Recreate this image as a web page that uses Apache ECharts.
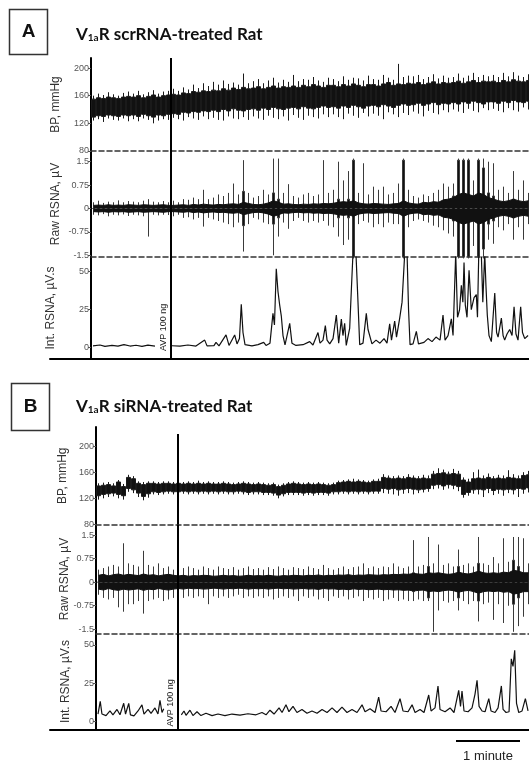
<!DOCTYPE html>
<html>
<head>
<meta charset="utf-8">
<script src="https://cdn.jsdelivr.net/npm/echarts@6/dist/echarts.min.js"></script>
<style>
  html, body { margin: 0; background: #fff; }
  #main { width: 529px; height: 764px; }
</style>
</head>
<body>
<div id="main"></div>
<script>
// one bin of the BP / raw RSNA traces, in seconds (trace read every 5 px, 64 px = 1 min)
var BIN = 4.6875;
// AVP 100 ng bolus, seconds after trace start
var avpA = 75, avpB = 76.9;

// ---- A: V1aR scrRNA-treated rat ----
// BP, mmHg: dense band (lo/hi) and beat extremes (min/max) per bin
var bpLoA = [129,131,130,132,131,130,132,131, 132,130,133,131,129,132,131,133,
             134,133,136,135,137,136,138,137, 139,137,140,138,141,139,138,140,
             141,139,142,140,143,141,140,142, 143,141,144,142,141,143,145,143,
             144,142,145,143,146,144,142,145, 146,144,147,145,143,146,148,146,
             147,149,146,148,150,147,149,148, 150,148,151,149,152,150,148,151,
             151,149,152,150,153,151,150,152];
var bpHiA = [155,157,156,158,157,156,158,159, 158,160,157,159,161,158,160,161,
             162,161,164,163,166,165,167,166, 168,167,170,168,171,169,172,170,
             171,173,170,172,174,171,173,172, 174,172,175,173,176,174,172,175,
             175,173,176,174,177,175,173,176, 176,174,177,179,175,177,176,178,
             177,179,176,178,180,177,179,178, 179,181,178,180,182,179,181,180,
             181,179,182,180,183,181,180,182];
var bpMinA = [124,126,122,127,125,124,127,123, 126,123,127,125,120,124,126,125,
              128,126,124,129,127,125,130,126, 128,125,124,130,127,126,129,125,
              130,127,125,131,128,126,130,124, 132,128,125,131,129,127,133,129,
              133,129,126,134,131,128,135,130, 134,131,126,136,133,129,135,132,
              137,134,130,138,135,133,139,136, 140,137,135,141,138,136,142,139,
              141,138,136,142,139,137,143,140];
var bpMaxA = [160,163,161,165,162,160,164,166, 163,167,162,165,168,163,166,167,
              170,167,172,169,176,171,178,174, 180,176,182,177,179,176,192,178,
              181,184,178,182,186,179,183,180, 190,181,184,183,187,182,180,186,
              184,181,188,183,186,185,182,189, 184,183,190,186,183,206,187,189,
              188,190,184,187,191,185,189,186, 187,192,186,189,193,187,190,188,
              190,187,193,188,194,189,187,191];

// Raw RSNA, µV: background noise half-width, burst half-height, spike top / bottom per bin
var rawCoreA = [0.1,0.11,0.1,0.12,0.1,0.11,0.1,0.12,0.11,0.1,0.12,0.11,0.1,0.11,0.12,0.1,
                0.1,0.11,0.12,0.1,0.13,0.11,0.14,0.12,0.11,0.13,0.12,0.14,0.15,0.13,0.2,0.16,
                0.13,0.12,0.14,0.18,0.25,0.2,0.14,0.15,0.13,0.12,0.14,0.13,0.15,0.14,0.16,0.15,
                0.17,0.2,0.22,0.2,0.25,0.18,0.15,0.14,0.16,0.15,0.14,0.13,0.15,0.16,0.25,0.18,
                0.15,0.14,0.2,0.18,0.22,0.2,0.28,0.3,0.35,0.45,0.5,0.45,0.4,0.5,0.45,0.35,
                0.3,0.25,0.22,0.25,0.3,0.25,0.22,0.25];
var rawBurstA = [0,0,0,0,0,0,0,0,0,0,0,0,0,0,0,0,
                 0,0,0,0,0,0,0,0,0,0,0,0,0,0,0.55,0,
                 0,0,0,0,0.5,0.3,0,0,0,0,0,0,0,0,0,0,
                 0,0.3,0,0.3,1.55,0,0,0,0,0,0,0,0,0,1.55,0,
                 0,0,0,0,0,0,0,0,0.4,1.55,1.55,1.55,0,1.55,1.3,0.5,
                 0.4,0,0,0,0.3,0,0,0];
var rawUpA = [0.2,0.25,0.18,0.22,0.2,0.26,0.2,0.24,0.22,0.2,0.25,0.3,0.22,0.2,0.24,0.2,
              0.25,0.2,0.3,0.28,0.35,0.3,0.6,0.3,0.35,0.45,0.4,0.5,0.8,0.45,1.55,0.5,
              0.35,0.4,0.6,0.45,1.6,1.6,0.5,0.78,0.4,0.35,0.45,0.5,0.4,0.45,1.55,0.5,
              0.6,1.5,0.9,1.2,1.6,0.5,1.45,0.45,0.7,0.6,0.7,0.45,0.5,0.8,1.6,0.6,
              0.4,0.35,0.45,0.4,0.5,0.6,0.8,0.7,0.8,1.6,1.6,1.6,0.9,1.6,1.6,1.5,
              1.45,0.6,0.7,0.5,1.2,0.6,0.9,0.5];
var rawDnA = [-0.2,-0.22,-0.18,-0.25,-0.2,-0.22,-0.19,-0.24,-0.2,-0.22,-0.25,-0.9,-0.2,-0.22,-0.2,-0.21,
              -0.25,-0.2,-0.3,-0.28,-0.35,-0.3,-0.58,-0.3,-0.35,-0.4,-0.45,-0.5,-0.6,-0.45,-1.38,-0.5,
              -0.3,-0.35,-0.45,-0.5,-1.5,-0.9,-0.45,-0.65,-0.4,-0.3,-0.4,-0.45,-0.4,-0.45,-0.4,-0.55,
              -0.6,-0.9,-1.17,-1.0,-1.6,-0.5,-0.4,-0.45,-0.6,-0.5,-0.6,-0.45,-0.5,-0.5,-1.6,-0.6,
              -0.4,-0.35,-0.4,-0.45,-0.55,-0.6,-0.7,-0.8,-0.9,-1.6,-1.6,-1.6,-1.2,-1.6,-1.6,-1.0,
              -1.13,-0.6,-0.7,-0.5,-1.0,-0.6,-1.0,-0.5];

// Integrated RSNA, µV.s: [seconds, value]; '-' = gap left for the AVP label
var intA = [[1.9,1.2],[8.4,1.8],[13.1,0.9],[19.7,1.5],[25.3,1.0],[30.9,2.0],[36.6,1.1],[42.2,1.6],
  [47.8,0.9],[53.4,1.7],[60,1.0],[67,'-'],
  [75.9,1.3],[83.4,1.0],[90.9,1.8],[98.4,1.1],[106.6,5],[108.8,1.2],[115.3,1.4],[117.2,3.5],
  [120,1.2],[126.6,8.4],[129.4,1.5],[134.7,8.4],[136.9,2.5],[139.2,6],[140.9,28.5],[142.5,10],
  [144.4,2],[150.9,1.2],[156.6,2],[161.9,3.5],[164.1,1.5],[167.8,3],[170.6,22.6],[172,15],
  [173.7,52],[175.3,37],[176.9,28],[178.4,21],[180,8],[181.9,1.8],[186.3,16],[188.4,3],
  [192.2,1.5],[198.8,2],[205,4],[208.1,1.8],[212.8,10],[214.7,3],[217.5,5],[219.7,14.5],
  [221.3,5],[223.8,2.5],[226.9,6],[230,21.5],[232.2,3],[234.7,18.8],[236.2,8],[237.8,16],
  [239.3,1.5],[242.5,12.7],[244.2,40],[245.6,62],[248.4,62],[250.3,30],[251.9,2],[255,3],
  [258.1,22.6],[259.7,12],[261.3,10.7],[263.4,2.5],[267.2,5],[270.9,3],[274.7,6],[277.5,3],
  [280,15.7],[281.7,5],[284.7,17.5],[286.4,7],[289.4,19.5],[291.6,30],[294.1,62],[296.3,62],
  [297.7,25],[299.1,2],[301.9,2.5],[305,10.7],[307,2.5],[312.2,3.5],[315.9,6],[319.7,4],
  [323.4,7],[327.2,5],[330,21.5],[331.9,5],[334.7,8],[337.8,19],[339.4,8],[341.9,62],
  [343.6,20],[345.5,25],[347.2,41],[348.6,30],[349.7,56],[350.9,28],[352.5,20],[354.4,51],
  [356.5,25],[359.1,33],[361.2,35],[362.3,20],[363.5,62],[365.9,62],[367.3,30],[369.1,62],
  [370.3,40],[371.5,21.5],[373.1,8],[375.3,4],[378.5,36],[380.2,10],[381.6,7],[384.7,19.5],
  [386.3,8],[387.8,5],[390,9],[392.5,12],[394.7,8],[396.6,26.9],[398.4,9],[400.3,5],
  [402.8,27],[404.5,10],[406.6,6],[409.7,8]];

// ---- B: V1aR siRNA-treated rat ----
var bpLoB = [124,126,127,128,126,124,135,133, 128,123,127,130,129,130,131,130,
             130,131,130,131,130,131,130,131, 130,131,130,130,131,130,129,130,
             130,129,129,128,125,127,129,129, 129,128,129,128,129,129,128,130,
             130,131,130,131,130,131,130,131, 131,135,134,135,133,134,135,134,
             133,134,135,140,141,139,141,140, 138,126,129,133,134,133,135,132,
             134,133,134,133,135,134,136];
var bpHiB = [139,140,141,139,145,138,152,150, 143,141,143,143,142,143,143,142,
             143,142,143,142,143,142,143,142, 142,143,142,141,142,143,142,141,
             142,141,140,141,138,140,142,143, 142,141,142,141,142,141,140,141,
             144,145,146,145,146,145,144,146, 146,152,151,150,151,150,152,151,
             150,151,150,157,158,159,157,158, 157,148,145,150,151,150,152,150,
             151,150,152,151,150,155,156];
var bpMinB = [118,120,122,123,120,118,130,128, 122,117,121,126,125,126,127,126,
              126,127,126,127,126,127,126,127, 126,127,126,126,127,126,125,126,
              126,125,125,124,120,123,125,125, 125,124,125,124,125,125,124,126,
              126,127,126,127,126,127,126,127, 127,128,127,126,124,127,128,126,
              128,129,130,134,135,133,135,134, 131,121,124,127,126,122,128,125,
              127,124,128,126,122,127,129];
var bpMaxB = [143,144,145,143,148,142,156,154, 146,145,146,146,145,146,146,145,
              146,145,146,145,147,145,146,145, 145,146,145,144,145,146,145,144,
              145,144,143,144,141,143,145,146, 145,144,145,144,145,144,143,144,
              147,148,149,150,149,148,147,149, 150,157,155,154,155,154,157,155,
              154,156,155,162,166,164,161,165, 162,152,150,160,164,155,158,154,
              156,155,163,157,155,160,162];

var rawCoreB = [0.22,0.25,0.2,0.24,0.26,0.22,0.25,0.23,0.21,0.26,0.22,0.24,0.2,0.23,0.25,0.22,
                0.2,0.22,0.19,0.21,0.2,0.22,0.21,0.19,0.2,0.22,0.2,0.21,0.19,0.2,0.22,0.2,
                0.21,0.2,0.22,0.2,0.19,0.21,0.2,0.22,0.21,0.2,0.22,0.21,0.23,0.2,0.22,0.21,
                0.23,0.22,0.24,0.21,0.23,0.22,0.24,0.23,0.22,0.24,0.23,0.25,0.24,0.26,0.25,0.28,
                0.26,0.25,0.3,0.28,0.3,0.27,0.25,0.27,0.32,0.28,0.26,0.3,0.35,0.3,0.28,0.3,
                0.28,0.32,0.3,0.38,0.35,0.3,0.3];
var rawBurstB = [0,0,0,0,0,0,0,0,0,0,0,0,0,0,0,0,
                 0,0,0,0,0,0,0,0,0,0,0,0,0,0,0,0,
                 0,0,0,0,0,0,0,0,0,0,0,0,0,0,0,0,
                 0,0,0,0,0,0,0,0,0,0,0,0,0,0,0,0.3,
                 0,0,0.5,0,0,0,0,0,0.5,0,0,0,0.6,0,0,0,
                 0,0.3,0,0.7,0.5,0,0];
var rawUpB = [0.4,0.45,0.5,0.55,0.5,1.24,0.6,0.55,0.5,1.0,0.55,0.5,0.6,0.45,0.5,0.4,
              0.4,0.45,0.5,0.45,0.4,0.5,0.45,0.4,0.5,0.45,0.42,0.48,0.4,0.45,0.5,0.42,
              0.45,0.4,0.48,0.42,0.5,0.45,0.4,0.48,0.45,0.42,0.5,0.45,0.42,0.55,0.45,0.4,
              0.45,0.5,0.42,0.48,0.5,0.6,0.45,0.5,0.45,0.5,0.48,0.6,0.5,0.45,0.5,1.34,
              0.5,0.55,1.44,0.6,1.2,0.55,0.6,0.5,1.04,0.55,0.6,0.5,1.44,0.6,0.55,0.8,
              0.6,1.4,0.65,1.44,1.44,1.4,0.6];
var rawDnB = [-0.4,-0.5,-0.55,-0.5,-0.8,-0.94,-0.7,-0.7,-0.6,-1.0,-0.6,-0.55,-0.5,-0.6,-0.55,-0.5,
              -0.45,-0.5,-0.45,-0.5,-0.45,-0.5,-0.7,-0.45,-0.5,-0.45,-0.5,-0.45,-0.4,-0.5,-0.45,-0.5,
              -0.45,-0.5,-0.45,-0.55,-0.5,-0.45,-0.5,-0.45,-0.6,-0.45,-0.5,-0.45,-0.55,-0.5,-0.6,-0.45,
              -0.5,-0.45,-0.55,-0.5,-0.45,-0.6,-0.5,-0.55,-0.5,-0.6,-0.55,-0.5,-0.6,-0.55,-0.6,-0.6,
              -0.55,-0.6,-0.6,-1.58,-0.9,-0.6,-0.65,-0.6,-0.9,-0.6,-0.7,-0.6,-1.25,-0.7,-0.65,-1.2,
              -0.7,-1.3,-0.75,-1.58,-1.4,-1.1,-0.7];

var intB = [[1.9,5],[4,13.3],[5.6,5],[9.4,4],[13.1,7],[15.9,4.5],[19.7,8],[22.5,4.5],[26,12],
  [27.7,5],[30.7,12],[32.3,4.5],[35.6,3.8],[39.4,7],[43.1,11],[45,5],[48.8,8],[51.6,5.5],
  [55.3,9],[58.1,5],[60,14],[61.9,6],[63.5,8.5],[70,'-'],
  [80,4.5],[82.5,7],[84.4,4.2],[88.1,7.5],[90.9,4],[94.7,6.5],[98.4,4],[103.1,5.5],[108.8,4],
  [114.4,5],[120.9,4],[127.5,5],[135,4.3],[142.5,5.2],[150,4.5],[155.6,6],[159.4,4.5],
  [163.1,7.5],[166.9,5],[171.6,9],[174.4,6],[178.1,11],[180.9,6.5],[184.7,10],[188.4,6],
  [193.1,8],[197.8,5.5],[202.5,7],[207.2,5.5],[211.9,8],[216.6,6],[221.3,9],[225.9,6],
  [230.6,9.5],[235.3,6],[240,8],[244.7,6],[249.4,11],[252.2,6.5],[256.9,8.5],[261.6,6],
  [265,16],[267.2,7],[271.9,6.5],[276.6,10],[280.3,6],[285,15],[287.8,7],[292.5,6.5],
  [296.3,11],[299.1,6],[303.8,8],[307.5,6],[311.9,17.4],[314.1,7],[317.8,9],[320.6,23.3],
  [322.5,8],[327.2,6.5],[331.9,9],[335.6,6],[340,20.4],[341.7,10],[343.1,20],[345,7],
  [348.8,6.5],[352.5,9],[355.3,18],[357.2,27],[359.1,10],[361.9,7],[364.7,6.5],[368.2,15],
  [370.3,7],[374.1,6],[376.9,9],[380,23.3],[381.6,8],[384.4,6],[387.2,6.5],[389.3,41],
  [390.9,36],[392.5,46.5],[394.2,12],[396.3,6],[399.4,7],[402.5,15],[405,7]];

// tick labels
var bpTicks = [80, 120, 160, 200];
var rawTicks = [-1.5, -0.75, 0, 0.75, 1.5];
var intTicks = [0, 25, 50];

// ---------------- option building ----------------
var FONT = 'Liberation Sans';
var grids = [], xAxes = [], yAxes = [], series = [];

// yShift: how far right of the grid's left edge the y axis sits (int panels extend the baseline to the left)
function addPanel(grid, xMin, xMax, xLine, yMin, yMax, ticks, name, gap, yShift) {
    var i = grids.length;
    grid.outerBoundsMode = 'none';
    grids.push(grid);
    xAxes.push({
        type: 'value', gridIndex: i, min: xMin, max: xMax,
        axisLine: { show: true, onZero: false, lineStyle: xLine },
        axisTick: { show: false }, axisLabel: { show: false }, splitLine: { show: false }
    });
    yAxes.push({
        type: 'value', gridIndex: i, min: yMin, max: yMax, offset: -(yShift || 0),
        name: name, nameLocation: 'middle', nameGap: gap, nameRotate: 90, nameMoveOverlap: false,
        nameTextStyle: { fontFamily: FONT, fontSize: 12, color: '#333' },
        axisLine: { show: true, onZero: false, lineStyle: { color: '#000', width: 2 } },
        axisTick: { show: true, length: 3, customValues: ticks, lineStyle: { color: '#555' } },
        axisLabel: { show: true, customValues: ticks, fontFamily: FONT, fontSize: 9, color: '#555', margin: 2 },
        splitLine: { show: false }
    });
    return i;
}

var dashed = { color: '#333', width: 1.5, type: [5, 3] };
var solid = { color: '#000', width: 2 };

// labelPad: null = no label, otherwise space kept between the grid bottom and the text
function avpMark(data, labelPad) {
    return {
        silent: true, symbol: 'none', animation: false,
        lineStyle: { color: '#000', width: 2, type: 'solid' },
        label: labelPad != null ? {
            show: true, position: 'insideStartTop', formatter: 'AVP 100 ng',
            fontFamily: FONT, fontSize: 9, color: '#222', distance: 3, padding: [0, 0, 0, labelPad]
        } : { show: false },
        data: data
    };
}

function bpSeries(ax, lo, hi, mn, mx, mark) {
    return {
        type: 'candlestick', xAxisIndex: ax, yAxisIndex: ax, silent: true, barWidth: 5,
        data: lo.map(function (v, i) { return [(i + 0.5) * BIN, v, hi[i], mn[i], mx[i]]; }),
        itemStyle: { color: '#111', color0: '#111', borderColor: '#1a1a1a', borderColor0: '#1a1a1a', borderWidth: 1 },
        markLine: mark
    };
}

function rawSeries(ax, core, burst, up, dn, mark) {
    var out = [];
    [1, -1].forEach(function (sign) {
        out.push({
            type: 'line', xAxisIndex: ax, yAxisIndex: ax, silent: true, symbol: 'none',
            lineStyle: { color: '#111', width: 1 },
            areaStyle: { color: '#111', opacity: 1, origin: 0 },
            data: core.map(function (v, i) { return [(i + 0.5) * BIN, sign * v]; })
        });
    });
    out.push({
        type: 'candlestick', xAxisIndex: ax, yAxisIndex: ax, silent: true, barWidth: 2,
        data: burst.map(function (b, i) { return [(i + 0.5) * BIN, -b, b, dn[i], up[i]]; }),
        itemStyle: { color: '#111', color0: '#111', borderColor: '#3a3a3a', borderColor0: '#3a3a3a', borderWidth: 1 },
        markLine: mark
    });
    return out;
}

function intSeries(ax, data, mark) {
    return {
        type: 'line', xAxisIndex: ax, yAxisIndex: ax, silent: true, symbol: 'none',
        lineStyle: { color: '#111', width: 1.2 }, data: data, markLine: mark
    };
}

// panel A
var a0 = addPanel({ left: 91, top: 58, width: 438, height: 93 }, 0, 410.6, dashed, 80, 214.5, bpTicks, 'BP, mmHg', 29);
var a1 = addPanel({ left: 91, top: 151, width: 438, height: 106 }, 0, 410.6, dashed, -1.554, 1.843, rawTicks, 'Raw RSNA, µV', 29);
var a2 = addPanel({ left: 50, top: 257, width: 479, height: 102 }, -38.4, 410.6, solid, -7.43, 59.7, intTicks, 'Int. RSNA, µV.s', 34, 41);
series.push(bpSeries(a0, bpLoA, bpHiA, bpMinA, bpMaxA, avpMark([{ xAxis: avpA }], null)));
series = series.concat(rawSeries(a1, rawCoreA, rawBurstA, rawUpA, rawDnA, avpMark([{ xAxis: avpA }], null)));
series.push(intSeries(a2, intA, avpMark([{ xAxis: avpA }], 5)));

// panel B
var b0 = addPanel({ left: 96, top: 427, width: 433, height: 97.5 }, 0, 405.9, dashed, 80, 229.1, bpTicks, 'BP, mmHg', 27);
var b1 = addPanel({ left: 96, top: 524.5, width: 433, height: 109 }, 0, 405.9, dashed, -1.634, 1.838, rawTicks, 'Raw RSNA, µV', 25);
var b2 = addPanel({ left: 50, top: 633.5, width: 479, height: 96 }, -43.1, 405.9, solid, -5.08, 57.5, intTicks, 'Int. RSNA, µV.s', 24, 46);
series.push(bpSeries(b0, bpLoB, bpHiB, bpMinB, bpMaxB, avpMark([[{ coord: [avpB, 218.4] }, { coord: [avpB, 80] }]], null)));
series = series.concat(rawSeries(b1, rawCoreB, rawBurstB, rawUpB, rawDnB, avpMark([{ xAxis: avpB }], null)));
series.push(intSeries(b2, intB, avpMark([{ xAxis: avpB }], 0)));

var titleStyle = {
    fontFamily: 'Lato', fontWeight: 'bold', fontSize: 17, color: '#111',
    rich: { s: { fontFamily: 'Lato', fontWeight: 'bold', fontSize: 10, color: '#111', verticalAlign: 'bottom' } }
};

var option = {
    animation: false,
    backgroundColor: '#fff',
    title: [
        { text: 'V{s|1a}R scrRNA-treated Rat', left: 76, top: 26, padding: 0, textStyle: titleStyle },
        { text: 'V{s|1a}R siRNA-treated Rat', left: 76, top: 398, padding: 0, textStyle: titleStyle }
    ],
    grid: grids,
    xAxis: xAxes,
    yAxis: yAxes,
    series: series,
    graphic: [
        { type: 'rect', shape: { x: 9.5, y: 9.5, width: 38, height: 45 }, style: { fill: '#fff', stroke: '#333', lineWidth: 1.5 } },
        { type: 'text', x: 28.5, y: 32, style: { text: 'A', font: 'bold 19px Liberation Sans', fill: '#111', align: 'center', verticalAlign: 'middle', textAlign: 'center', textVerticalAlign: 'middle' } },
        { type: 'rect', shape: { x: 11.5, y: 383.5, width: 38, height: 47 }, style: { fill: '#fff', stroke: '#333', lineWidth: 1.5 } },
        { type: 'text', x: 30.5, y: 407, style: { text: 'B', font: 'bold 19px Liberation Sans', fill: '#111', align: 'center', verticalAlign: 'middle', textAlign: 'center', textVerticalAlign: 'middle' } },
        { type: 'line', shape: { x1: 456, y1: 741, x2: 520, y2: 741 }, style: { stroke: '#000', lineWidth: 2 } },
        { type: 'text', x: 488, y: 756, style: { text: '1 minute', font: '13px Liberation Sans', fill: '#222', align: 'center', verticalAlign: 'middle', textAlign: 'center', textVerticalAlign: 'middle' } }
    ]
};

var chart = echarts.init(document.getElementById('main'));
chart.setOption(option);
</script>
</body>
</html>
